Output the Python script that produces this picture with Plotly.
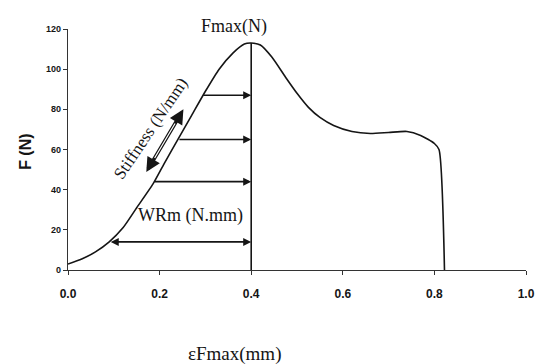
import plotly.graph_objects as go

# Load-displacement curve (displacement mm, force N)
disp = [0.0, 0.03, 0.06, 0.09, 0.12, 0.15, 0.186, 0.21, 0.24, 0.27, 0.30, 0.33, 0.36, 0.385, 0.40,
        0.42, 0.445, 0.475, 0.50, 0.525, 0.55, 0.58, 0.62, 0.66, 0.70, 0.74, 0.77, 0.80, 0.81, 0.822]
force = [3, 5.5, 9, 14, 21, 31, 43, 53, 65, 77, 89, 100, 108, 112.5, 113,
         112, 106, 96, 88, 81, 76, 72, 69, 68, 68.5, 69, 67, 63, 60, 0]

fmax_x = 0.40
fmax_f = 113

# horizontal arrows (force levels, start displacement on curve)
arrow_f = [87, 65, 44]
arrow_x0 = [0.292, 0.24, 0.186]
# WRm double arrow
wrm_f = 14
wrm_x0 = 0.09
# stiffness arrow end points
stiff_x = [0.169, 0.252]
stiff_f = [48, 80]

x_ticks = [0.0, 0.2, 0.4, 0.6, 0.8, 1.0]
x_tick_text = ["0.0", "0.2", "0.4", "0.6", "0.8", "1.0"]
y_ticks = [0, 20, 40, 60, 80, 100, 120]

ink = "#151515"
serif = "Liberation Serif"

fig = go.Figure()
fig.add_trace(go.Scatter(x=disp, y=force, mode="lines", line=dict(color=ink, width=1.6, shape="spline", smoothing=0.6),
                         showlegend=False, hoverinfo="skip"))
fig.add_trace(go.Scatter(x=[fmax_x, fmax_x], y=[0, fmax_f], mode="lines", line=dict(color=ink, width=1.6),
                         showlegend=False, hoverinfo="skip"))

anns = []
for f, x0 in zip(arrow_f, arrow_x0):
    anns.append(dict(x=fmax_x, y=f, ax=x0, ay=f, xref="x", yref="y", axref="x", ayref="y",
                     showarrow=True, arrowhead=2, arrowsize=1, arrowwidth=1.6, arrowcolor=ink, text=""))
anns.append(dict(x=fmax_x, y=wrm_f, ax=wrm_x0, ay=wrm_f, xref="x", yref="y", axref="x", ayref="y",
                 showarrow=True, arrowhead=2, startarrowhead=2, arrowside="end+start", arrowsize=1,
                 startarrowsize=1, arrowwidth=1.6, arrowcolor=ink, text=""))
# hollow thick stiffness arrow: black outline plus white core
anns.append(dict(x=stiff_x[1], y=stiff_f[1], ax=stiff_x[0], ay=stiff_f[0], xref="x", yref="y", axref="x", ayref="y",
                 showarrow=True, arrowhead=2, startarrowhead=2, arrowside="end+start", arrowsize=0.8,
                 startarrowsize=0.8, arrowwidth=3.6, arrowcolor=ink, text=""))
sx_a = stiff_x[0] + 0.22 * (stiff_x[1] - stiff_x[0])
sf_a = stiff_f[0] + 0.22 * (stiff_f[1] - stiff_f[0])
sx_b = stiff_x[0] + 0.78 * (stiff_x[1] - stiff_x[0])
sf_b = stiff_f[0] + 0.78 * (stiff_f[1] - stiff_f[0])
anns.append(dict(x=sx_b, y=sf_b, ax=sx_a, ay=sf_a, xref="x", yref="y", axref="x", ayref="y",
                 showarrow=True, arrowhead=0, arrowwidth=1.2, arrowcolor="white", text=""))

anns.append(dict(x=(237 - 68) / 467, y=(270 - 26) / 241, xref="x", yref="paper", text="Fmax(N)", showarrow=False,
                 xanchor="center", yanchor="middle", font=dict(family=serif, size=18, color=ink)))
anns.append(dict(x=(193 - 68) / 467, y=(270 - 215) / 241, xref="x", yref="paper", text="WRm (N.mm)", showarrow=False,
                 xanchor="center", yanchor="middle", font=dict(family=serif, size=18, color=ink)))
anns.append(dict(x=(152 - 68) / 467, y=(270 - 128) / 241, xref="x", yref="paper", text="Stiffness (N/mm)",
                 showarrow=False, textangle=-56, xanchor="center", yanchor="middle",
                 font=dict(family=serif, size=17, color=ink)))
anns.append(dict(x=(238 - 68) / 467, y=(270 - 354) / 241, xref="paper", yref="paper", text="εFmax(mm)",
                 showarrow=False, xanchor="center", yanchor="middle", font=dict(family=serif, size=19, color=ink)))
anns.append(dict(x=(24 - 68) / 467, y=(270 - 152) / 241, xref="paper", yref="paper", text="F (N)",
                 showarrow=False, textangle=-90, xanchor="center", yanchor="middle",
                 font=dict(family="Liberation Sans", size=16, color=ink, weight="bold")))

# page body has an 8px default margin, so the figure is sized to fit inside the window
fig.update_layout(
    width=539, height=356, autosize=False,
    margin=dict(l=60, r=12, t=21, b=94),
    plot_bgcolor="white", paper_bgcolor="white",
    annotations=anns,
    xaxis=dict(range=[0, 1.0], tickvals=x_ticks, ticktext=x_tick_text, showgrid=False, zeroline=False,
               showline=True, linecolor="#333", linewidth=1.2, ticks="outside", ticklen=4, tickcolor="#333",
               ticklabelstandoff=8,
               tickfont=dict(family="Liberation Sans", size=12, color=ink, weight="bold")),
    yaxis=dict(range=[0, 120], tickvals=y_ticks, showgrid=False, zeroline=False,
               showline=True, linecolor="#333", linewidth=1.2, ticks="outside", ticklen=4, tickcolor="#333",
               tickfont=dict(family="Liberation Sans", size=9, color=ink, weight="bold")),
)

fig.write_html("out.html")
